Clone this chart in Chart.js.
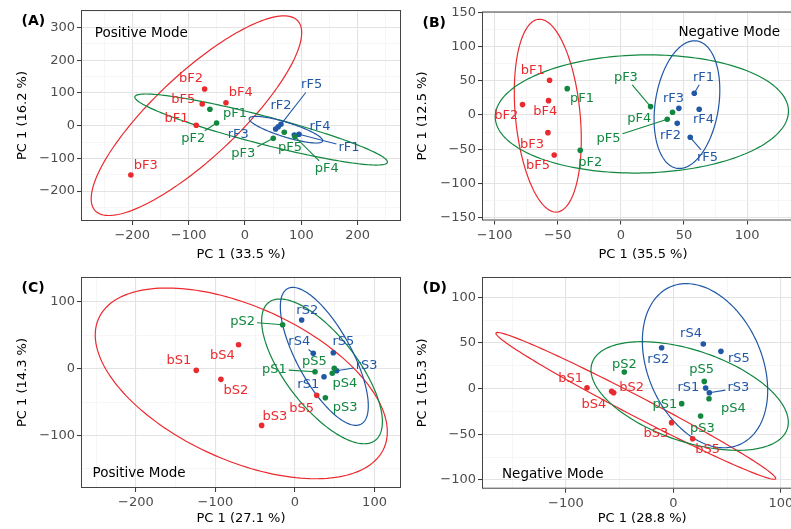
<!DOCTYPE html>
<html>
<head>
<meta charset="utf-8">
<script src="https://cdn.jsdelivr.net/npm/chart.js@4.4.1/dist/chart.umd.min.js"></script>
<style>
  html, body { margin: 0; padding: 0; background: #fff; overflow: hidden; }
  #wrap { position: relative; width: 791px; height: 529px; overflow: hidden; }
  canvas { position: absolute; }
</style>
</head>
<body>
<div id="wrap">
  <canvas id="chartA" width="410" height="265" style="left:0;top:0"></canvas>
  <canvas id="chartB" width="410" height="265" style="left:400px;top:0"></canvas>
  <canvas id="chartC" width="410" height="264" style="left:0;top:265px"></canvas>
  <canvas id="chartD" width="410" height="264" style="left:400px;top:265px"></canvas>
</div>
<script>
const COLORS = ['#EB2A2E', '#11873F', '#2058A6'];  // b, p, r
const GROUPS = ['b', 'p', 'r'];
const FONT = '"DejaVu Sans", "Liberation Sans", sans-serif';

// PCA scores [PC1, PC2] per group, samples 1..5
const A_b = [[-86.5, 1.2], [-71.6, 112.2], [-202.5, -150.8], [-33.7, 70.3], [-75.8, 66.4]];
const A_p = [[-62.2, 50.2], [-50.3, 8.3], [50.3, -38.5], [88.8, -33.6], [69.8, -20.2]];
const A_r = [[95.9, -26.3], [59.1, -3.1], [54.5, -10.1], [87.6, -28.4], [63.9, 4.3]];

const B_b = [[-56.5, 50.6], [-77.9, 15.1], [-57.8, -25.8], [-57.3, 20.9], [-52.8, -58.4]];
const B_p = [[-42.5, 38.4], [-32.2, -51.6], [23.5, 12.2], [40.9, 3.9], [36.7, -6.3]];
const B_r = [[58.1, 31.6], [44.6, -12.2], [45.9, 9.7], [62.0, 8.3], [54.9, -32.6]];

const C_b = [[-124.1, -2.5], [-93.1, -16], [-41.9, -85], [-70.9, 36], [27.3, -40]];
const C_p = [[25.2, -4.5], [-15.5, 66], [38.2, -43.5], [46.9, -6.9], [49.4, 0.6]];
const C_r = [[36.5, -12], [8.4, 73], [52.4, -3], [23, 23.1], [48.2, 24]];

const D_b = [[-80.3, 1.1], [-55.5, -4.4], [-1.6, -37.2], [-57.4, -2.9], [18, -54.8]];
const D_p = [[7.8, -16.4], [-45.6, 18.3], [25.4, -29.9], [33.2, -11], [28.8, 8]];
const D_r = [[30.1, 0.7], [-10.9, 44.9], [33.5, -4.4], [27.9, 48.9], [44.3, 40.9]];

// labelled axis ticks
const A_xTicks = [-200, -100, 0, 100, 200], A_yTicks = [-200, -100, 0, 100, 200, 300];
const B_xTicks = [-100, -50, 0, 50, 100],   B_yTicks = [-150, -100, -50, 0, 50, 100, 150];
const C_xTicks = [-200, -100, 0, 100],      C_yTicks = [-100, 0, 100];
const D_xTicks = [-100, 0, 100],            D_yTicks = [-100, -50, 0, 50, 100];

// confidence ellipses: centre + two conjugate half-axes, in data units [cx, cy, ux, uy, vx, vy]
const A_ell = [[-86.1, 30.6, 179.7, 290.5, 51.1, -93.7], [28.7, -11.7, 224.1, -100.4, -6.3, -41.5], [72.8, -12.2, 65.1, -34.7, -3.8, -21.4]];
const B_ell = [[-57.9, -1, 7.3, -140.6, 25.5, 4.5], [16.6, 1.5, 116.1, 4.9, 1.1, -86.1], [52.3, 15.1, 7.9, 92.9, 24.8, -7.2]];
const C_ell = [[-67.5, -22, 183.6, -72.6, 0, -123.2], [34, -4, 75.9, -75.7, 0, -77.75], [36.9, 18.5, 55.3, -74.2, 0, -72.1]];
const D_ell = [[-34.9, -18.8, 130.1, -79.8, -4.3, -9.7], [15.2, -8, 91.8, -28.7, 0, -52.1], [29.5, 25.2, 58.3, -27, 0, -85.7]];

// label placement (pixel offset from the point) and which labels get a leader line
const A_off = [
  [[-19.7, -6.3], [-13.7, -10.7], [15, -9], [14.7, -10], [-19, -4.7]],
  [[25, 4], [-23.4, 15.3], [-30, 15.7], [31.7, 31.6], [5.7, 15.4]],
  [[50, 13], [2.7, -20.7], [-37.4, 6], [25.7, -8.3], [30.7, -39.3]]
];
const B_off = [
  [[-16.7, -9.7], [-16.3, 11], [-16, 11.7], [-3.3, 11], [-16.3, 10.7]],
  [[14.7, 10.3], [10, 12], [-24.7, -29.3], [-33.4, 6], [-58.7, 19]],
  [[9.3, -16], [-6.7, 12.3], [-5.3, -9.3], [4.3, 10], [17.3, 20]]
];
const C_off = [
  [[-17.3, -9.3], [15, 11], [13.3, -8.3], [-16.3, 11.3], [-15, 13.3]],
  [[-40.7, -2.4], [-40, -3], [19.7, 10.3], [12.7, 10.4], [-20, -7]],
  [[-15.7, 7.6], [5.6, -9.7], [30, -4.7], [-14, -11.3], [10, -10.7]]
];
const D_off = [
  [[-16.3, -9], [18, -5.3], [-15.7, 11], [-17.7, 13.7], [15, 11]],
  [[-16.7, 1], [0, -7.3], [1.7, 12.7], [24.3, 10], [-2.7, -11.7]],
  [[-17.3, -0.3], [-3.3, 11.7], [29, -4.7], [-12.3, -10], [18, 7.3]]
];
const A_lead = ['pF2', 'pF3', 'pF4', 'rF1', 'rF5'];
const B_lead = ['pF3', 'pF5', 'rF1', 'rF5'];
const C_lead = ['pS1', 'pS2', 'rS3', 'rS4'];
const D_lead = ['rS3'];

function fmt(v) { return v < 0 ? '\u2212' + Math.abs(v) : String(v); }

const pcaPlugin = {
  id: 'pca',
  beforeDatasetsDraw(chart, args, o) {
    const { ctx, chartArea: a, scales: { x, y } } = chart;
    ctx.save();
    ctx.beginPath();
    ctx.rect(a.left, a.top, a.width, a.height);
    ctx.clip();
    ctx.lineWidth = 1.2;
    o.ellipses.forEach((e, i) => {
      const [cx, cy, ux, uy, vx, vy] = e;
      ctx.strokeStyle = COLORS[i];
      ctx.beginPath();
      for (let k = 0; k <= 180; k++) {
        const t = k / 180 * 2 * Math.PI;
        const px = x.getPixelForValue(cx + ux * Math.cos(t) + vx * Math.sin(t));
        const py = y.getPixelForValue(cy + uy * Math.cos(t) + vy * Math.sin(t));
        if (k) ctx.lineTo(px, py); else ctx.moveTo(px, py);
      }
      ctx.closePath();
      ctx.stroke();
    });
    ctx.restore();
  },
  afterDatasetsDraw(chart, args, o) {
    const { ctx, scales: { x, y } } = chart;
    ctx.save();
    ctx.font = '13px ' + FONT;
    ctx.textAlign = 'center';
    ctx.textBaseline = 'middle';
    chart.data.datasets.forEach((ds, di) => {
      chart.getDatasetMeta(di).data.forEach((pt, i) => {
        const name = ds.data[i].name;
        const [dx, dy] = o.offsets[di][i];
        const lx = pt.x + dx, ly = pt.y + dy;
        ctx.fillStyle = COLORS[di];
        ctx.strokeStyle = COLORS[di];
        if (o.leaders.includes(name)) {
          const hw = ctx.measureText(name).width / 2 + 2, hh = 7.5;
          const s = Math.min(hw / Math.max(Math.abs(dx), 1e-6), hh / Math.max(Math.abs(dy), 1e-6));
          if (s < 1) {
            ctx.lineWidth = 1.1;
            ctx.beginPath();
            ctx.moveTo(pt.x, pt.y);
            ctx.lineTo(lx - dx * s, ly - dy * s);
            ctx.stroke();
          }
        }
        ctx.fillText(name, lx, ly);
      });
    });
    // mode note
    ctx.fillStyle = '#000';
    ctx.font = '13.5px ' + FONT;
    ctx.fillText(o.mode, x.getPixelForValue(o.modeAt[0]), y.getPixelForValue(o.modeAt[1]));
    ctx.restore();
  },
  afterDraw(chart, args, o) {
    const { ctx, chartArea: a } = chart;
    ctx.save();
    ctx.strokeStyle = '#444';
    ctx.lineWidth = 1;
    ctx.strokeRect(a.left + 0.5, a.top + 0.5, a.width - 1, a.height - 1);
    ctx.fillStyle = '#000';
    ctx.font = 'bold 14px ' + FONT;
    ctx.textAlign = 'left';
    ctx.textBaseline = 'alphabetic';
    ctx.fillText(o.tag, a.left - 59.5, a.top + 15);
    ctx.restore();
  }
};

// labelled ticks plus the minor grid lines half way between them
function gridValues(min, max, majors) {
  const half = (majors[1] - majors[0]) / 2;
  const vals = majors.map(v => ({ value: v, major: true }));
  for (let i = 0; i < majors.length - 1; i++) vals.push({ value: majors[i] + half, major: false });
  for (let v = majors[0] - half; v >= min; v -= 2 * half) vals.push({ value: v, major: false });
  for (let v = majors[majors.length - 1] + half; v <= max; v += 2 * half) vals.push({ value: v, major: false });
  return vals.sort((p, q) => p.value - q.value);
}

function axis(min, max, majors, title, fixed, horizontal) {
  const maj = c => !!(c.tick && c.tick.major);
  return {
    type: 'linear',
    min: min,
    max: max,
    afterBuildTicks: s => { s.ticks = gridValues(min, max, majors); },
    afterFit: s => { if (horizontal) s.height = fixed; else s.width = fixed; },
    ticks: {
      autoSkip: false,
      maxRotation: 0,
      minRotation: 0,
      padding: horizontal ? 3 : 2,
      color: '#4d4d4d',
      font: { family: FONT, size: 13 },
      callback: v => majors.includes(v) ? fmt(v) : ''
    },
    grid: {
      color: c => maj(c) ? '#e3e3e3' : '#f0f0f0',
      lineWidth: c => maj(c) ? 1.1 : 0.6,
      tickLength: 4,
      tickWidth: 1,
      tickColor: c => maj(c) ? '#333' : 'rgba(0,0,0,0)'
    },
    border: { display: false },
    title: {
      display: true,
      text: title,
      color: '#000',
      font: { family: FONT, size: 13 },
      padding: horizontal ? { top: 0, bottom: 2.3 } : { top: 15, bottom: 0 }
    }
  };
}

function makePanel(id, p) {
  const series = [p.b, p.p, p.r];
  new Chart(document.getElementById(id), {
    type: 'scatter',
    data: {
      datasets: series.map((pts, gi) => ({
        label: GROUPS[gi],
        data: pts.map(([px, py], i) => ({ x: px, y: py, name: GROUPS[gi] + p.set + (i + 1) })),
        backgroundColor: COLORS[gi],
        borderColor: COLORS[gi],
        pointRadius: 2.8,
        pointHoverRadius: 2.8,
        pointBorderWidth: 0
      }))
    },
    options: {
      responsive: false,
      animation: false,
      events: [],
      layout: { padding: { left: 0, top: p.padTop, right: p.padRight, bottom: 0 } },
      plugins: {
        legend: { display: false },
        tooltip: { enabled: false },
        pca: { ellipses: p.ell, offsets: p.off, leaders: p.lead, tag: p.tag, mode: p.mode, modeAt: p.modeAt }
      },
      scales: {
        x: axis(p.x[0], p.x[1], p.xTicks, p.xTitle, p.xH, true),
        y: axis(p.y[0], p.y[1], p.yTicks, p.yTitle, p.yW, false)
      }
    },
    plugins: [pcaPlugin]
  });
}

makePanel('chartA', {
  b: A_b, p: A_p, r: A_r, set: 'F', ell: A_ell, off: A_off, lead: A_lead,
  x: [-291, 277], y: [-291.4, 353.8], xTicks: A_xTicks, yTicks: A_yTicks,
  xTitle: 'PC 1 (33.5 %)', yTitle: 'PC 1 (16.2 %)', tag: '(A)',
  mode: 'Positive Mode', modeAt: [-184, 283],
  padTop: 10, padRight: 9, yW: 81, xH: 44
});
makePanel('chartB', {
  b: B_b, p: B_p, r: B_r, set: 'F', ell: B_ell, off: B_off, lead: B_lead,
  x: [-110, 145], y: [-154, 151], xTicks: B_xTicks, yTicks: B_yTicks,
  xTitle: 'PC 1 (35.5 %)', yTitle: 'PC 1 (12.5 %)', tag: '(B)',
  mode: 'Negative Mode', modeAt: [85.8, 119.7],
  padTop: 11.5, padRight: 6, yW: 82, xH: 44.5
});
makePanel('chartC', {
  b: C_b, p: C_p, r: C_r, set: 'S', ell: C_ell, off: C_off, lead: C_lead,
  x: [-269, 133.3], y: [-178.9, 137.5], xTicks: C_xTicks, yTicks: C_yTicks,
  xTitle: 'PC 1 (27.1 %)', yTitle: 'PC 1 (14.3 %)', tag: '(C)',
  mode: 'Positive Mode', modeAt: [-196, -157.9],
  padTop: 12, padRight: 9, yW: 81, xH: 41
});
makePanel('chartD', {
  b: D_b, p: D_p, r: D_r, set: 'S', ell: D_ell, off: D_off, lead: D_lead,
  x: [-178, 120], y: [-109.5, 122.3], xTicks: D_xTicks, yTicks: D_yTicks,
  xTitle: 'PC 1 (28.8 %)', yTitle: 'PC 1 (15.3 %)', tag: '(D)',
  mode: 'Negative Mode', modeAt: [-112.1, -93.8],
  padTop: 12, padRight: 7.7, yW: 82, xH: 40.3
});
</script>
</body>
</html>
